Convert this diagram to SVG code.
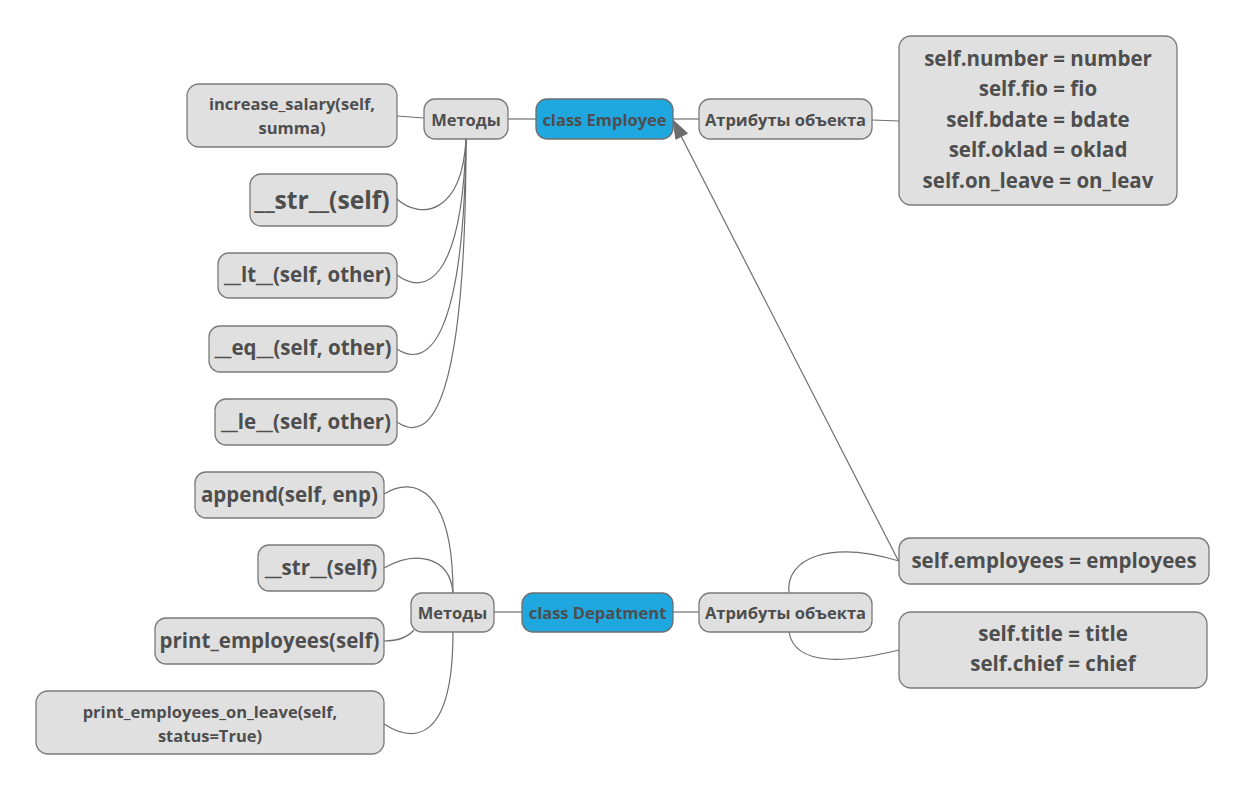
<svg xmlns="http://www.w3.org/2000/svg" width="1246" height="793" viewBox="0 0 1246 793">
<defs>
<style>
.n rect{fill:#e0e0e0;stroke:#7a7a7a;stroke-width:1.3}
.b rect{fill:#1fa7df;stroke:#6f6f6f;stroke-width:1.3}
text{font-family:"Open Sans","Noto Sans","Liberation Sans",sans-serif;font-weight:bold;fill:#4e4e4e;text-anchor:middle;dominant-baseline:central}
.c path{fill:none;stroke:#6e6e6e;stroke-width:1.2}
.c path.head{fill:#6e6e6e;stroke:#6e6e6e;stroke-width:1}
.s15{font-size:16.5px}.s20{font-size:20.5px}.s24{font-size:24.7px}
</style>
</defs>
<rect width="1246" height="793" fill="#ffffff"/>
<g class="c" id="connectors">
<path d="M397,116 L424,118"/>
<path d="M508,119 L536,119"/>
<path d="M673,119 L699,119"/>
<path d="M872,120 L899,121"/>
<path d="M397,199 C420,220 462,215 466,139"/>
<path d="M397,275 C425,296 462,282 466,139"/>
<path d="M397,349 C427,369 464,342 466,139"/>
<path d="M397,422 C432,446 466,400 466,139"/>
<path d="M384,494 C415,475 453,490 453,593"/>
<path d="M384,568 C415,550 450,556 453,593"/>
<path d="M384,641 C400,641 408,637 414,630"/>
<path d="M384,724 C412,742 453,745 453,632"/>
<path d="M494,612 L522,612"/>
<path d="M673,612 L699,612"/>
<path d="M789,593 C785,558 830,540 899,561"/>
<path d="M789,632 C795,668 850,662 899,650"/>
<path d="M898,560 L680,134"/>
<path class="head" d="M673,120 L687.5,133.3 L675.9,139.2 z"/>
</g>
<g id="n_increase" class="n"><rect x="187" y="84" width="210" height="63" rx="12"/><text class="s15" x="292" y="103">increase_salary(self,</text><text class="s15" x="292" y="127">summa)</text></g>
<g id="n_methods1" class="n"><rect x="424" y="99" width="84" height="40" rx="11"/><text class="s15" x="466" y="119">Методы</text></g>
<g id="n_employee" class="b"><rect x="536" y="99" width="137" height="40" rx="11"/><text class="s15" x="604.5" y="119">class Employee</text></g>
<g id="n_attr1" class="n"><rect x="699" y="99" width="173" height="40" rx="11"/><text class="s15" x="785.5" y="119">Атрибуты объекта</text></g>
<g id="n_attrs_emp" class="n"><rect x="899" y="36" width="278" height="169" rx="12"/>
<text class="s20" x="1038" y="58">self.number = number</text>
<text class="s20" x="1038" y="88">self.fio = fio</text>
<text class="s20" x="1038" y="119">self.bdate = bdate</text>
<text class="s20" x="1038" y="149">self.oklad = oklad</text>
<text class="s20" x="1038" y="180">self.on_leave = on_leav</text></g>
<g id="n_str1" class="n"><rect x="250" y="174" width="147" height="52" rx="11"/><text class="s24" x="322" y="199">__str__(self)</text></g>
<g id="n_lt" class="n"><rect x="218" y="253" width="179" height="45" rx="11"/><text class="s20" x="307.5" y="274">__lt__(self, other)</text></g>
<g id="n_eq" class="n"><rect x="209" y="326" width="188" height="46" rx="11"/><text class="s20" x="303" y="347">__eq__(self, other)</text></g>
<g id="n_le" class="n"><rect x="215" y="399" width="182" height="46" rx="11"/><text class="s20" x="306" y="421">__le__(self, other)</text></g>
<g id="n_append" class="n"><rect x="195" y="472" width="189" height="46" rx="11"/><text class="s20" x="289.5" y="494">append(self, enp)</text></g>
<g id="n_str2" class="n"><rect x="258" y="545" width="126" height="46" rx="11"/><text class="s20" x="321" y="567">__str__(self)</text></g>
<g id="n_print" class="n"><rect x="155" y="618" width="229" height="46" rx="11"/><text class="s20" x="269.5" y="640">print_employees(self)</text></g>
<g id="n_print_leave" class="n"><rect x="36" y="691" width="348" height="63" rx="12"/><text class="s15" x="210" y="711">print_employees_on_leave(self,</text><text class="s15" x="210" y="735">status=True)</text></g>
<g id="n_methods2" class="n"><rect x="411" y="593" width="83" height="39" rx="11"/><text class="s15" x="452.5" y="612">Методы</text></g>
<g id="n_dep" class="b"><rect x="522" y="593" width="151" height="39" rx="11"/><text class="s15" x="597.5" y="612">class Depatment</text></g>
<g id="n_attr2" class="n"><rect x="699" y="593" width="173" height="39" rx="11"/><text class="s15" x="785.5" y="612">Атрибуты объекта</text></g>
<g id="n_employees" class="n"><rect x="899" y="538" width="310" height="46" rx="11"/><text class="s20" x="1054" y="560">self.employees = employees</text></g>
<g id="n_title" class="n"><rect x="899" y="612" width="308" height="76" rx="12"/><text class="s20" x="1053" y="633">self.title = title</text><text class="s20" x="1053" y="663">self.chief = chief</text></g>
</svg>
